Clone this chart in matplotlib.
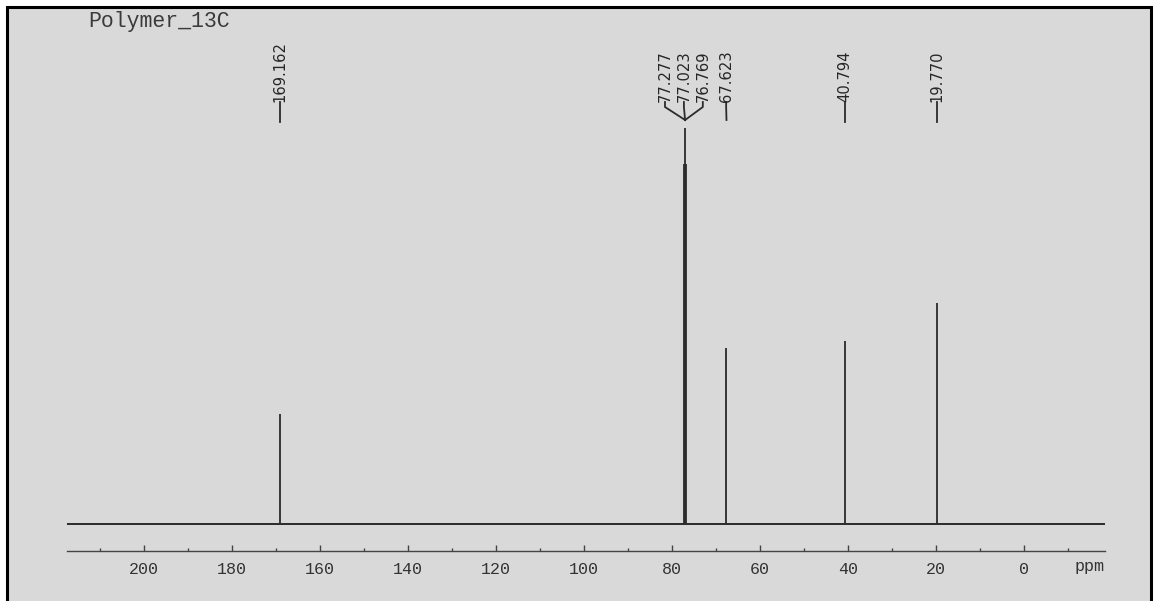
import matplotlib
matplotlib.use("Agg")
from matplotlib import pyplot as plt
from matplotlib import transforms
from matplotlib.patches import Rectangle
from matplotlib.ticker import MultipleLocator

# peak list (ppm) and relative heights
peak_ppm = [169.162, 77.277, 77.023, 76.769, 67.623, 40.794, 19.770]
peak_height = [27.8, 91.0, 100.0, 91.0, 44.4, 46.2, 55.8]
peak_labels = ["169.162", "77.277", "77.023", "76.769", "67.623", "40.794", "19.770"]
# where each label is printed (ppm); the triplet labels are spread apart
label_ppm = [169.162, 81.6, 77.3, 73.0, 67.7, 40.794, 19.770]
# which peak each spread label points to
label_target = [169.162, 77.023, 77.023, 77.023, 67.623, 40.794, 19.770]

major_ticks = [200, 180, 160, 140, 120, 100, 80, 60, 40, 20, 0]
title = "Polymer_13C"

W, H = 1154, 601
ink = "#2b2b2b"
paper = "#d9d9d9"

fig = plt.figure(figsize=(W / 100, H / 100), dpi=100)
fig.patch.set_facecolor("white")

# scanned page with its black frame
fig.patches.append(Rectangle((7 / W, -0.02), (1151 - 7) / W, 1.02 - 7 / H,
                             transform=fig.transFigure, facecolor=paper,
                             edgecolor="black", linewidth=2.2, zorder=-10))

ax = fig.add_axes([67 / W, 50 / H, (1105 - 67) / W, (591 - 50) / H])
ax.set_facecolor("none")
ax.set_xlim(217.5, -18.4)
ax.set_ylim(-6.8, 129.8)

# baseline and peaks
ax.plot([217.5, -18.4], [0, 0], color=ink, lw=1.4, solid_capstyle="butt")
ax.vlines(peak_ppm, 0, peak_height, color=ink, lw=1.3)

for s in ["top", "left", "right"]:
    ax.spines[s].set_visible(False)
ax.spines["bottom"].set_color("#444444")
ax.spines["bottom"].set_linewidth(1.0)
ax.set_yticks([])
ax.set_xticks(major_ticks)
ax.xaxis.set_minor_locator(MultipleLocator(10))
ax.tick_params(axis="x", which="major", direction="in", length=4, width=1,
               color="#444444", pad=8, labelsize=12, labelcolor="#333333")
ax.tick_params(axis="x", which="minor", direction="in", length=2.5, width=1,
               color="#444444")
for lab in ax.get_xticklabels():
    lab.set_fontfamily("Liberation Mono")
ax.text(1105 / W, 1 - 567 / H, "ppm", transform=fig.transFigure, ha="right",
        va="center", fontsize=12, family="Liberation Mono", color="#333333")

# peak labels: x in ppm, y in figure pixels from the top
tr = transforms.blended_transform_factory(ax.transData, fig.transFigure)


def fy(px):
    return 1 - px / H


for lx, tx, txt in zip(label_ppm, label_target, peak_labels):
    ax.text(lx, fy(102), txt, transform=tr, rotation=90, ha="center",
            va="bottom", fontsize=10.6,
            family=["Liberation Sans Narrow", "DejaVu Sans"], color="#262626")
    if lx == tx:
        ax.plot([lx, lx], [fy(102), fy(122)], transform=tr, color=ink,
                lw=1.3, clip_on=False)
    else:
        ax.plot([lx, lx, tx], [fy(102), fy(107), fy(120)], transform=tr,
                color=ink, lw=1.3, clip_on=False)

fig.text(88 / W, fy(22), title, ha="left", va="center", fontsize=15.5,
         family="Liberation Mono", color="#3a3a3a")

fig.savefig("out.png", dpi=100)
